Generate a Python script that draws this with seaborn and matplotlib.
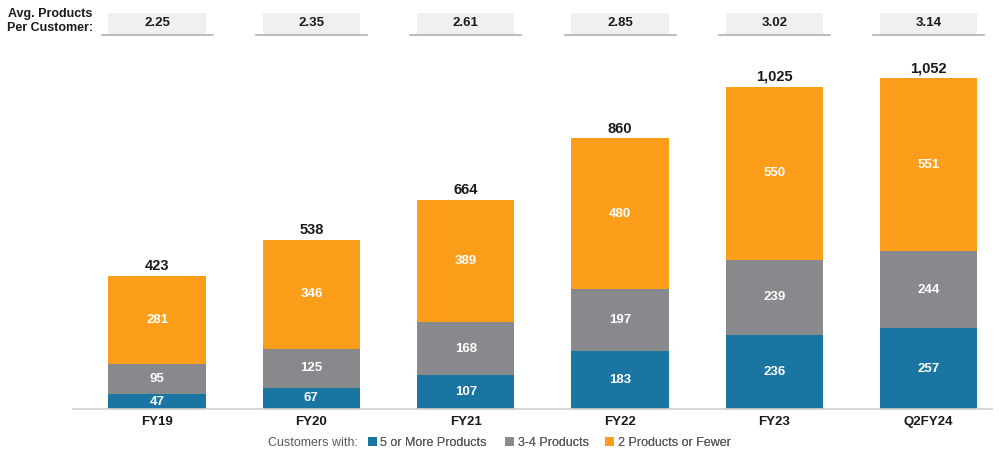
import matplotlib
matplotlib.use("Agg")
import matplotlib.pyplot as plt
import matplotlib.transforms as mtransforms
from matplotlib.patches import Rectangle, Patch
from matplotlib.lines import Line2D
import seaborn as sns
import pandas as pd

categories = ["FY19", "FY20", "FY21", "FY22", "FY23", "Q2FY24"]
five_plus = [47, 67, 107, 183, 236, 257]
three_four = [95, 125, 168, 197, 239, 244]
two_or_fewer = [281, 346, 389, 480, 550, 551]
totals = [423, 538, 664, 860, 1025, 1052]
avg_products = ["2.25", "2.35", "2.61", "2.85", "3.02", "3.14"]
series_names = ["5 or More Products", "3-4 Products", "2 Products or Fewer"]

BLUE = "#1b75a3"
GRAY = "#88898c"
ORANGE = "#fd9e1b"

sns.set_theme(style="white")
plt.rcParams["font.family"] = ["Liberation Sans", "DejaVu Sans"]

df = pd.DataFrame({"cat": categories, "a": five_plus, "b": three_four, "c": two_or_fewer})
bottom_b = df["a"].values
bottom_c = (df["a"] + df["b"]).values

fig = plt.figure(figsize=(9.99, 4.59), dpi=100)
W, H = 999, 459
ax = fig.add_axes([73 / W, (H - 409) / H, (992 - 73) / W, (409 - 40) / H])

width = 0.63
sns.barplot(data=df, x="cat", y="a", color=BLUE, width=width, ax=ax, saturation=1, linewidth=0)
sns.barplot(data=df, x="cat", y="b", bottom=bottom_b, color=GRAY, width=width, ax=ax, saturation=1, linewidth=0)
sns.barplot(data=df, x="cat", y="c", bottom=bottom_c, color=ORANGE, width=width, ax=ax, saturation=1, linewidth=0)

ax.set_xlim(-0.545, 5.41)
ax.set_ylim(0, 1173)
ax.set_xlabel("")
ax.set_ylabel("")
ax.set_yticks([])
for s in ["top", "right", "left"]:
    ax.spines[s].set_visible(False)
ax.spines["bottom"].set_color("#d0d0d0")
ax.spines["bottom"].set_linewidth(1.2)
ax.tick_params(axis="x", length=0, pad=5, labelsize=9.5, labelcolor="#1a1a1a")
for lbl in ax.get_xticklabels():
    lbl.set_fontweight("bold")

# inner labels
for i in range(len(categories)):
    ys = [five_plus[i] / 2, bottom_b[i] + three_four[i] / 2, bottom_c[i] + two_or_fewer[i] / 2]
    vals = [five_plus[i], three_four[i], two_or_fewer[i]]
    for y, v in zip(ys, vals):
        ax.text(i, y, f"{v}", ha="center", va="center", color="white", fontsize=9.5, fontweight="semibold")
    ax.text(i, totals[i] + 9, f"{totals[i]:,}", ha="center", va="bottom", color="#1a1a1a",
            fontsize=10.5, fontweight="bold")

# header boxes
trans = mtransforms.blended_transform_factory(ax.transData, fig.transFigure)
for i, v in enumerate(avg_products):
    fig.patches.append(Rectangle((i - width / 2, (H - 34) / H), width, 21 / H, transform=trans,
                                 facecolor="#f0f0f0", edgecolor="none", figure=fig))
    fig.lines.append(Line2D([i - 0.36, i + 0.36], [(H - 35) / H] * 2, transform=trans,
                            color="#bdbdbd", linewidth=1.5, figure=fig))
    fig.text(i, (H - 23) / H, v, transform=trans, ha="center", va="center",
             fontsize=9.5, fontweight="bold", color="#1a1a1a")

fig.text(50 / W, (H - 21) / H, "Avg. Products\nPer Customer:", ha="center", va="center",
         multialignment="center", fontsize=9, fontweight="bold", color="#1a1a1a", linespacing=1.3)

# legend
fig.text(268 / W, (H - 443) / H, "Customers with:", ha="left", va="center", fontsize=9, color="#595959")
colors = [BLUE, GRAY, ORANGE]
legend_x = [368, 505, 605]
for c, name, lx in zip(colors, series_names, legend_x):
    leg = fig.legend([Patch(facecolor=c, edgecolor="none")], [name], loc="center left",
                     bbox_to_anchor=(lx / W, (H - 443) / H), frameon=False, fontsize=9,
                     handlelength=0.7, handleheight=0.7, handletextpad=0.3,
                     borderaxespad=0, borderpad=0, labelcolor="#595959")
    fig.add_artist(leg)

fig.savefig("out.png", dpi=100)
